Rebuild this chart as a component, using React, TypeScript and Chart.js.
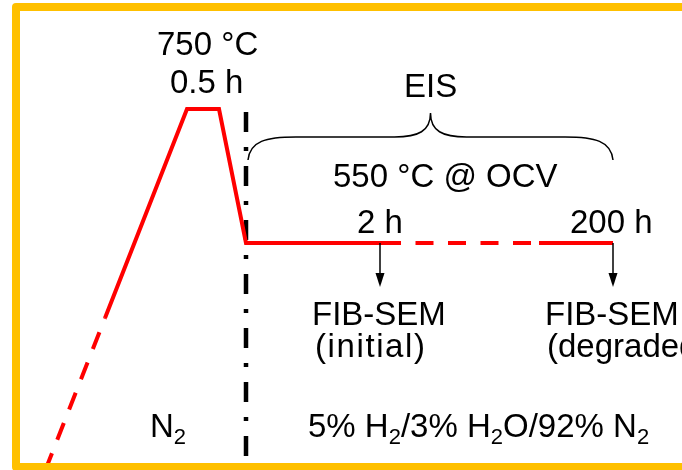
import React, { useEffect, useRef } from "react";
import { Chart, registerables } from "chart.js";

Chart.register(...registerables);

// Schematic profile (x: schematic time units, y: schematic level, top = 0)
const profileX = [45.4, 105, 187, 219, 246, 383, 539, 613];
const profileY = [470, 318, 109, 109, 243, 243, 243, 243];
const profileDashed = [true, false, false, false, false, true, false];

// Gas-switch divider
const dividerX = [246, 246];
const dividerY = [112, 470];

// Sampling arrows
const arrowX = [380, 613];
const arrowFromY = [243, 243];
const arrowToY = [287, 287];

// EIS brace
const braceX = [248, 613];
const braceEndY = 160;
const braceArmY = 137;
const braceTipY = 113;

// Labels ("_" marks a subscript character)
const labelText = [
  "750 °C",
  "0.5 h",
  "EIS",
  "550 °C @ OCV",
  "2 h",
  "200 h",
  "FIB-SEM",
  "(initial)",
  "FIB-SEM",
  "(degraded)",
  "N_2",
  "5% H_2/3% H_2O/92% N_2",
];
const labelX = [157, 170, 404, 333, 357, 570, 312, 315, 545, 547, 150, 308];
const labelY = [55, 93, 97, 187, 233, 233, 325, 357, 325, 357, 437, 437];

const FONT = "'Liberation Sans', Arial, Helvetica, sans-serif";
const MAIN_SIZE = 33;
const SUB_SIZE = 22;
// extra tracking for the narrow-letter label, as it appears in the source
const tracking: Record<string, number> = { "(initial)": 1.6 };

const schematicPlugin = {
  id: "schematic",
  afterDatasetsDraw(chart: any) {
    const { ctx, scales } = chart;
    const xs = scales.x;
    const ys = scales.y;
    const px = (v: number) => xs.getPixelForValue(v);
    const py = (v: number) => ys.getPixelForValue(v);
    ctx.save();

    // arrows
    ctx.strokeStyle = "#000";
    ctx.fillStyle = "#000";
    ctx.lineWidth = 1.5;
    for (let i = 0; i < arrowX.length; i++) {
      const x = px(arrowX[i]);
      const y0 = py(arrowFromY[i]);
      const y1 = py(arrowToY[i]);
      ctx.beginPath();
      ctx.moveTo(x, y0);
      ctx.lineTo(x, y1 - 10);
      ctx.stroke();
      ctx.beginPath();
      ctx.moveTo(x - 4.5, y1 - 14);
      ctx.lineTo(x + 4.5, y1 - 14);
      ctx.lineTo(x, y1);
      ctx.closePath();
      ctx.fill();
    }

    // brace
    const L = px(braceX[0]);
    const R = px(braceX[1]);
    const M = (L + R) / 2;
    const yE = py(braceEndY);
    const yA = py(braceArmY);
    const yT = py(braceTipY);
    ctx.lineWidth = 1.5;
    ctx.beginPath();
    ctx.moveTo(L, yE);
    ctx.bezierCurveTo(L + 2, yA + 4, L + 18, yA, L + 48, yA);
    ctx.lineTo(M - 36, yA);
    ctx.bezierCurveTo(M - 12, yA, M, yA - 6, M, yT);
    ctx.bezierCurveTo(M, yA - 6, M + 12, yA, M + 36, yA);
    ctx.lineTo(R - 48, yA);
    ctx.bezierCurveTo(R - 18, yA, R - 2, yA + 4, R, yE);
    ctx.stroke();

    // labels
    ctx.textAlign = "left";
    ctx.textBaseline = "alphabetic";
    ctx.fillStyle = "#000";
    for (let i = 0; i < labelText.length; i++) {
      let x = px(labelX[i]);
      const y = py(labelY[i]);
      const t = labelText[i];
      const track = tracking[t] || 0;
      for (let k = 0; k < t.length; k++) {
        if (t[k] === "_" && k + 1 < t.length) {
          ctx.font = `${SUB_SIZE}px ${FONT}`;
          ctx.fillText(t[k + 1], x, y + 7);
          x += ctx.measureText(t[k + 1]).width;
          k++;
        } else {
          ctx.font = `${MAIN_SIZE}px ${FONT}`;
          if (track) {
            ctx.fillText(t[k], x, y);
            x += ctx.measureText(t[k]).width + track;
          } else {
            let j = k;
            while (j < t.length && t[j] !== "_") j++;
            const s = t.slice(k, j);
            ctx.fillText(s, x, y);
            x += ctx.measureText(s).width;
            k = j - 1;
          }
        }
      }
    }
    ctx.restore();
  },
  afterDraw(chart: any) {
    const { ctx, scales } = chart;
    const px = (v: number) => scales.x.getPixelForValue(v);
    const py = (v: number) => scales.y.getPixelForValue(v);
    ctx.save();
    ctx.strokeStyle = "#FFC000";
    ctx.lineWidth = 8;
    ctx.lineJoin = "round";
    const x0 = px(16);
    const y0 = py(7);
    const y1 = py(467);
    ctx.strokeRect(x0, y0, px(720) - x0, y1 - y0);
    ctx.restore();
  },
};

export default function App() {
  const ref = useRef<HTMLCanvasElement | null>(null);
  useEffect(() => {
    if (!ref.current) return;
    const profile = profileX.map((x, i) => ({ x, y: profileY[i] }));
    const divider = dividerX.map((x, i) => ({ x, y: dividerY[i] }));
    const chart = new Chart(ref.current, {
      type: "scatter",
      data: {
        datasets: [
          {
            data: profile,
            showLine: true,
            borderColor: "#FF0000",
            borderWidth: 4,
            pointRadius: 0,
            borderJoinStyle: "miter",
            borderCapStyle: "butt",
            order: 0,
            segment: {
              borderDash: (c: any) => (profileDashed[c.p0DataIndex] ? [18, 14.5] : []),
            },
          } as any,
          {
            data: divider,
            showLine: true,
            borderColor: "#000",
            borderWidth: 4.5,
            pointRadius: 0,
            borderDash: [20, 15, 4, 15],
            borderCapStyle: "butt",
            order: 1,
          } as any,
        ],
      },
      options: {
        animation: false,
        responsive: false,
        maintainAspectRatio: false,
        layout: { padding: 0 },
        events: [],
        scales: {
          x: { type: "linear", display: false, min: 0, max: 682 },
          y: { type: "linear", display: false, min: 0, max: 470, reverse: true },
        },
        plugins: {
          legend: { display: false },
          tooltip: { enabled: false },
        },
      },
      plugins: [schematicPlugin],
    });
    return () => chart.destroy();
  }, []);
  return (
    <div style={{ position: "fixed", left: 0, top: 0, width: 682, height: 470, background: "#fff" }}>
      <canvas ref={ref} width={682} height={470} style={{ display: "block" }} />
    </div>
  );
}
